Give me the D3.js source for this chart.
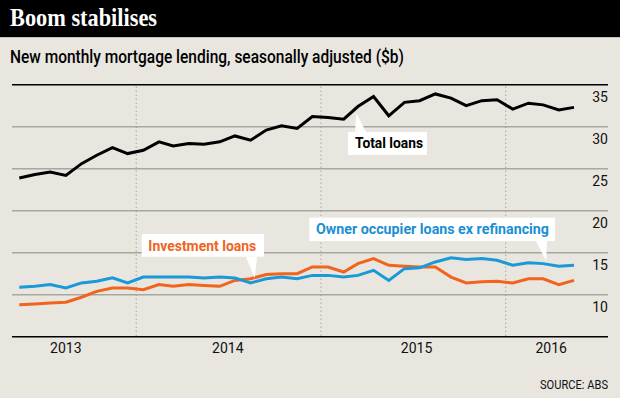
<!DOCTYPE html>
<html>
<head>
<meta charset="utf-8">
<script src="https://cdn.jsdelivr.net/npm/d3@7"></script>
<style>
  body { margin: 0; background: #e8e6df; }
  svg { display: block; }
</style>
</head>
<body>
<div id="chart"></div>
<script>
// monthly points, May 2013 to May 2016
const months = [
  "2013-05","2013-06","2013-07","2013-08","2013-09","2013-10","2013-11","2013-12",
  "2014-01","2014-02","2014-03","2014-04","2014-05","2014-06","2014-07","2014-08",
  "2014-09","2014-10","2014-11","2014-12","2015-01","2015-02","2015-03","2015-04",
  "2015-05","2015-06","2015-07","2015-08","2015-09","2015-10","2015-11","2015-12",
  "2016-01","2016-02","2016-03","2016-04","2016-05"
]

const totalLoans = [
  23.9, 24.3, 24.6, 24.2, 25.6, 26.6, 27.5, 26.8,
  27.2, 28.2, 27.7, 28.0, 27.9, 28.2, 28.9, 28.4,
  29.6, 30.1, 29.8, 31.2, 31.1, 30.9, 32.4, 33.6,
  31.3, 32.9, 33.1, 33.9, 33.4, 32.5, 33.1, 33.2,
  32.1, 32.8, 32.6, 32.0, 32.3
]

const ownerOccupier = [
  10.9, 11.0, 11.2, 10.8, 11.4, 11.6, 12.0, 11.4,
  12.1, 12.1, 12.1, 12.1, 12.0, 12.1, 12.0, 11.4,
  11.9, 12.1, 11.9, 12.3, 12.3, 12.1, 12.3, 12.9,
  11.7, 13.1, 13.2, 13.9, 14.4, 14.2, 14.3, 14.1,
  13.5, 13.8, 13.7, 13.4, 13.5
]

const investment = [
  8.8, 8.9, 9.0, 9.1, 9.7, 10.4, 10.8, 10.8,
  10.6, 11.2, 11.0, 11.2, 11.1, 11.0, 11.7, 11.9,
  12.4, 12.5, 12.5, 13.3, 13.3, 12.7, 13.7, 14.3,
  13.5, 13.4, 13.3, 13.3, 12.1, 11.4, 11.55, 11.6,
  11.4, 11.9, 11.9, 11.2, 11.7
]

const yTicks = [10, 15, 20, 25, 30, 35]
const yearLabels = ["2013", "2014", "2015", "2016"]
const yearLabelDates = ["2013-08-15", "2014-07-01", "2015-07-09", "2016-03-31"]
const yearLines = ["2014-01-01", "2015-01-01", "2016-01-01"]

const width = 620
const height = 398
const left = 12, right = 608

const parseDay = d3.timeParse("%Y-%m-%d")
const midMonth = m => parseDay(m + "-15")

const x = d3.scaleTime()
    .domain([midMonth(months[0]), midMonth(months[months.length - 1])])
    .range([19.3, 574])

const y = d3.scaleLinear()
    .domain([5, 35])
    .range([336.7, 84.7])

const series = [
  { name: "investment", values: investment, color: "#f0641e" },
  { name: "owner", values: ownerOccupier, color: "#1a99d8" },
  { name: "total", values: totalLoans, color: "#000" }
]

const annotations = [
  { label: "Total loans", color: "#000", tipDate: "2015-03-12", tipValue: 31.6,
    box: [348, 132, 427, 155], base: [355, 366], baseY: 132, textX: 355, textY: 148, len: 68 },
  { label: "Investment loans", color: "#f0641e", tipDate: "2014-08-23", tipValue: 11.95,
    box: [141.7, 234, 264, 256.7], base: [246, 257], baseY: 256.7, textX: 148.3, textY: 250.7, len: 108 },
  { label: "Owner occupier loans ex refinancing", color: "#1a8fd3", tipDate: "2016-03-21", tipValue: 14.0,
    box: [309.3, 217.7, 555, 241], base: [536, 547], baseY: 241, textX: 316, textY: 234.3, len: 233 }
]

const svg = d3.select("#chart")
  .append("svg")
    .attr("width", width)
    .attr("height", height)
    .attr("font-family", "Roboto, sans-serif")

svg.append("rect")
    .attr("width", width)
    .attr("height", height)
    .attr("fill", "#e8e6df")

// title bar
svg.append("rect")
    .attr("width", width)
    .attr("height", 37)
    .attr("fill", "#000")

svg.append("rect")
    .attr("y", 37)
    .attr("width", width)
    .attr("height", 1)
    .attr("fill", "#c4c2bb")

svg.append("text")
    .attr("x", 10)
    .attr("y", 26)
    .attr("fill", "#fff")
    .attr("font-family", "'Liberation Serif', serif")
    .attr("font-weight", "bold")
    .attr("font-size", 26)
    .attr("textLength", 147)
    .attr("lengthAdjust", "spacingAndGlyphs")
    .text("Boom stabilises")

svg.append("text")
    .attr("x", 10)
    .attr("y", 63.3)
    .attr("fill", "#000")
    .attr("font-size", 18)
    .attr("font-weight", 500)
    .attr("textLength", 394)
    .attr("lengthAdjust", "spacingAndGlyphs")
    .text("New monthly mortgage lending, seasonally adjusted ($b)")

// gridlines
svg.append("g")
  .selectAll("line")
  .data(yTicks.filter(d => d < 35))
  .join("line")
    .attr("x1", left)
    .attr("x2", right)
    .attr("y1", d => y(d))
    .attr("y2", d => y(d))
    .attr("stroke", "#a8a7a0")
    .attr("stroke-width", 1.5)

svg.append("line")
    .attr("x1", left)
    .attr("x2", right)
    .attr("y1", y(35))
    .attr("y2", y(35))
    .attr("stroke", "#000")
    .attr("stroke-width", 1.5)

// year dividers
svg.append("g")
  .selectAll("line")
  .data(yearLines)
  .join("line")
    .attr("x1", d => x(parseDay(d)))
    .attr("x2", d => x(parseDay(d)))
    .attr("y1", y(35) + 2)
    .attr("y2", y(5))
    .attr("stroke", "#8a8983")
    .attr("stroke-width", 1)
    .attr("stroke-dasharray", "1,3")

// bottom axis line
svg.append("line")
    .attr("x1", left)
    .attr("x2", right)
    .attr("y1", y(5))
    .attr("y2", y(5))
    .attr("stroke", "#000")
    .attr("stroke-width", 1.5)

svg.append("g")
    .attr("font-size", 14)
    .attr("fill", "#111")
    .attr("text-anchor", "end")
  .selectAll("text")
  .data(yTicks)
  .join("text")
    .attr("x", right)
    .attr("y", d => y(d) + 12)
    .attr("dy", "0.35em")
    .text(d => d)

svg.append("g")
    .attr("font-size", 14)
    .attr("fill", "#111")
    .attr("text-anchor", "middle")
  .selectAll("text")
  .data(yearLabels)
  .join("text")
    .attr("x", (d, i) => x(parseDay(yearLabelDates[i])))
    .attr("y", 348)
    .attr("dy", "0.35em")
    .text(d => d)

// lines
const line = d3.line()
    .x((d, i) => x(midMonth(months[i])))
    .y(d => y(d))

svg.append("g")
  .selectAll("path")
  .data(series)
  .join("path")
    .attr("fill", "none")
    .attr("stroke", d => d.color)
    .attr("stroke-width", 3)
    .attr("d", d => line(d.values))

// label boxes with pointers
const ann = svg.append("g")
  .selectAll("g")
  .data(annotations)
  .join("g")

ann.append("path")
    .attr("fill", "#fff")
    .attr("d", d => {
      const tx = x(parseDay(d.tipDate)), ty = y(d.tipValue)
      return `M${d.base[0]},${d.baseY}L${tx},${ty}L${d.base[1]},${d.baseY}Z`
    })

ann.append("rect")
    .attr("fill", "#fff")
    .attr("x", d => d.box[0])
    .attr("y", d => d.box[1])
    .attr("width", d => d.box[2] - d.box[0])
    .attr("height", d => d.box[3] - d.box[1])

ann.append("text")
    .attr("x", d => d.textX)
    .attr("y", d => d.textY)
    .attr("fill", d => d.color)
    .attr("font-weight", "bold")
    .attr("font-size", 14.5)
    .attr("textLength", d => d.len)
    .attr("lengthAdjust", "spacingAndGlyphs")
    .text(d => d.label)

svg.append("text")
    .attr("x", right)
    .attr("y", 388.5)
    .attr("text-anchor", "end")
    .attr("font-size", 12.5)
    .attr("fill", "#111")
    .attr("textLength", 68)
    .attr("lengthAdjust", "spacingAndGlyphs")
    .text("SOURCE: ABS")
</script>
</body>
</html>
